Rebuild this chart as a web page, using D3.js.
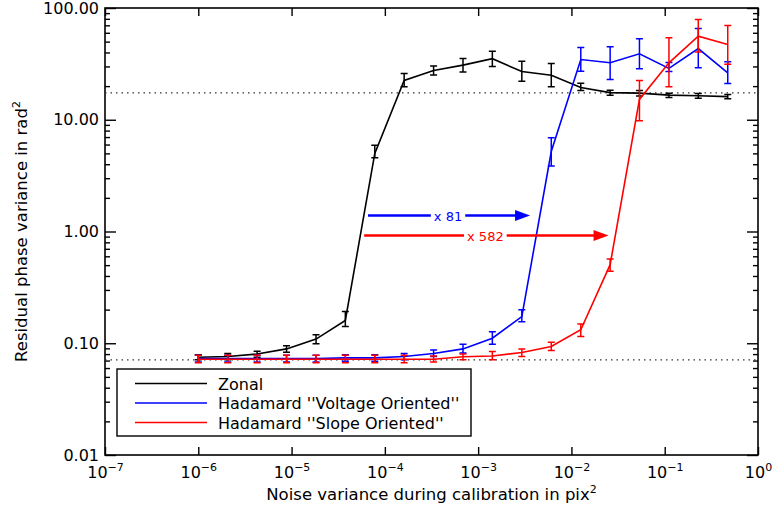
<!DOCTYPE html>
<html>
<head>
<meta charset="utf-8">
<script src="https://cdn.jsdelivr.net/npm/d3@7"></script>
<style>
  body { margin: 0; background: #fff; }
  svg { font-family: "DejaVu Sans", Verdana, sans-serif; }
</style>
</head>
<body>
<svg width="772" height="506"></svg>
<script>
// noise variance values (pix^2), one per simulation point
var noise = [1.0e-6, 2.07e-6, 4.27e-6, 8.83e-6, 1.83e-5, 3.77e-5, 7.8e-5, 1.61e-4, 3.33e-4, 6.88e-4,
             1.42e-3, 2.94e-3, 6.08e-3, 1.26e-2, 2.6e-2, 5.36e-2, 0.111, 0.229, 0.474]

// Zonal
var zonal    = [0.075, 0.076, 0.080, 0.089, 0.109, 0.160, 5.0, 22.5, 27.6, 30.8, 35.2, 27.0, 25.0, 19.4, 17.5, 17.3, 16.6, 16.4, 16.1]
var zonal_lo = [0.071, 0.071, 0.075, 0.083, 0.099, 0.141, 4.56, 19.7, 25.2, 26.7, 30.0, 22.1, 19.7, 18.3, 16.6, 16.3, 15.8, 15.6, 15.4]
var zonal_hi = [0.079, 0.081, 0.085, 0.095, 0.119, 0.192, 5.91, 25.9, 30.2, 35.3, 41.0, 33.3, 31.9, 21.2, 18.4, 18.3, 17.3, 17.2, 16.8]

// Hadamard "Voltage Oriented"
var volt    = [0.073, 0.073, 0.073, 0.073, 0.073, 0.074, 0.074, 0.076, 0.081, 0.089, 0.111, 0.173, 5.2, 34.6, 32.4, 38.9, 28.8, 43.4, 26.3]
var volt_lo = [0.068, 0.068, 0.068, 0.068, 0.068, 0.069, 0.069, 0.071, 0.076, 0.082, 0.098, 0.156, 3.85, 27.2, 22.9, 28.6, 27.0, 29.2, 21.1]
var volt_hi = [0.078, 0.078, 0.078, 0.078, 0.078, 0.079, 0.079, 0.081, 0.087, 0.098, 0.127, 0.199, 6.9, 44.4, 45.0, 53.0, 32.6, 65.6, 33.0]

// Hadamard "Slope Oriented"
var slope    = [0.072, 0.072, 0.072, 0.072, 0.072, 0.072, 0.072, 0.072, 0.072, 0.0757, 0.077, 0.0826, 0.0934, 0.132, 0.505, 15.2, 32.3, 56.0, 47.2]
var slope_lo = [0.067, 0.067, 0.067, 0.067, 0.067, 0.067, 0.067, 0.067, 0.068, 0.071, 0.071, 0.076, 0.086, 0.115, 0.44, 9.8, 19.7, 40.3, 31.3]
var slope_hi = [0.078, 0.078, 0.078, 0.078, 0.078, 0.078, 0.078, 0.078, 0.077, 0.080, 0.0843, 0.089, 0.102, 0.149, 0.567, 22.5, 54.2, 79.0, 69.8]

// reference levels (dotted lines)
var ref_levels = [17.4, 0.071]

// arrows: x start, x end, y, label
var arrows = [
  { x0: 6.6e-5, x1: 3.6e-3, y: 1.39, label: "x 81", color: "#0000ff" },
  { x0: 6.0e-5, x1: 2.5e-2, y: 0.92, label: "x 582", color: "#ff0000" }
]

var series = [
  { name: 'Zonal', v: zonal, lo: zonal_lo, hi: zonal_hi, color: '#000000' },
  { name: 'Hadamard \'\'Voltage Oriented\'\'', v: volt, lo: volt_lo, hi: volt_hi, color: '#0000ff' },
  { name: 'Hadamard \'\'Slope Oriented\'\'', v: slope, lo: slope_lo, hi: slope_hi, color: '#ff0000' }
]

var x_ticks = [1e-7, 1e-6, 1e-5, 1e-4, 1e-3, 1e-2, 1e-1, 1]
var x_exp = ['\u22127', '\u22126', '\u22125', '\u22124', '\u22123', '\u22122', '\u22121', '0']
var y_ticks = [0.01, 0.1, 1, 10, 100]

const pLeft = 105, pRight = 758, pTop = 8, pBottom = 455

const svg = d3.select('svg')

const xScale = d3.scaleLog().domain([1e-7, 1]).range([pLeft, pRight])
const yScale = d3.scaleLog().domain([0.01, 100]).range([pBottom, pTop])

var y_minor = []
y_ticks.slice(0, -1).forEach(function(d) {
  for (var m = 2; m <= 9; m++) y_minor.push(d * m)
})

// frame
svg.append('rect')
  .attr('x', pLeft).attr('y', pTop)
  .attr('width', pRight - pLeft).attr('height', pBottom - pTop)
  .attr('fill', 'none').attr('stroke', '#000').attr('stroke-width', 1.6)

// x axes (bottom with labels, top mirrored)
var xb = svg.append('g')
  .attr('transform', `translate(0, ${pBottom})`)
  .call(d3.axisBottom(xScale).tickValues(x_ticks).tickSizeInner(-8).tickSizeOuter(0).tickPadding(12))
xb.select('.domain').remove()
xb.selectAll('text').each(function(d, i) {
  var t = d3.select(this)
  t.text(null).attr('font-size', 16).attr('fill', '#000')
  t.append('tspan').text('10')
  t.append('tspan').attr('dy', -7).attr('font-size', 11).text(x_exp[i])
})
xb.attr('font-family', null)

var xt = svg.append('g')
  .attr('transform', `translate(0, ${pTop})`)
  .call(d3.axisTop(xScale).tickValues(x_ticks).tickSizeInner(-8).tickSizeOuter(0).tickFormat(''))
xt.select('.domain').remove()

// y axes, major and minor
var yl = svg.append('g')
  .attr('transform', `translate(${pLeft}, 0)`)
  .call(d3.axisLeft(yScale).tickValues(y_ticks).tickSizeInner(-11).tickSizeOuter(0).tickPadding(6).tickFormat(d3.format('.2f')))
yl.select('.domain').remove()
yl.attr('font-family', null)
yl.selectAll('text').attr('font-size', 16).attr('fill', '#000').attr('x', -6)

var ylm = svg.append('g')
  .attr('transform', `translate(${pLeft}, 0)`)
  .call(d3.axisLeft(yScale).tickValues(y_minor).tickSizeInner(-5).tickSizeOuter(0).tickFormat(''))
ylm.select('.domain').remove()

var yr = svg.append('g')
  .attr('transform', `translate(${pRight}, 0)`)
  .call(d3.axisRight(yScale).tickValues(y_ticks).tickSizeInner(-11).tickSizeOuter(0).tickFormat(''))
yr.select('.domain').remove()

var yrm = svg.append('g')
  .attr('transform', `translate(${pRight}, 0)`)
  .call(d3.axisRight(yScale).tickValues(y_minor).tickSizeInner(-5).tickSizeOuter(0).tickFormat(''))
yrm.select('.domain').remove()

svg.selectAll('.tick line').attr('stroke', '#000').attr('stroke-width', 1.4)

// dotted reference lines
svg.selectAll('.ref')
  .data(ref_levels)
  .enter()
  .append('line')
  .attr('x1', pLeft).attr('x2', pRight)
  .attr('y1', (d) => yScale(d)).attr('y2', (d) => yScale(d))
  .attr('stroke', '#333').attr('stroke-width', 1.3)
  .attr('stroke-dasharray', '1.5,4')

// series
const line = d3.line()
  .x((d) => xScale(d[0]))
  .y((d) => yScale(d[1]))

series.forEach(function(s) {
  var pts = noise.map((n, i) => [n, s.v[i], s.lo[i], s.hi[i]])
  var g = svg.append('g')
  g.append('path')
    .attr('d', line(pts))
    .attr('fill', 'none')
    .attr('stroke', s.color)
    .attr('stroke-width', 1.6)

  g.selectAll('.eb')
    .data(pts)
    .enter()
    .append('path')
    .attr('d', function(d) {
      var cx = xScale(d[0]), y0 = yScale(d[2]), y1 = yScale(d[3])
      return `M${cx - 3.5},${y0}H${cx + 3.5}M${cx},${y0}V${y1}M${cx - 3.5},${y1}H${cx + 3.5}`
    })
    .attr('fill', 'none')
    .attr('stroke', s.color)
    .attr('stroke-width', 1.5)
})

// arrows
arrows.forEach(function(a) {
  var x0 = xScale(a.x0), x1 = xScale(a.x1), y = yScale(a.y)
  svg.append('line')
    .attr('x1', x0).attr('x2', x1 - 14)
    .attr('y1', y).attr('y2', y)
    .attr('stroke', a.color).attr('stroke-width', 2.5)
  svg.append('path')
    .attr('d', `M${x1},${y}L${x1 - 15},${y - 5.5}L${x1 - 15},${y + 5.5}Z`)
    .attr('fill', a.color)
  var t = svg.append('text')
    .attr('x', (x0 + x1) / 2 - 1).attr('y', y + 5)
    .attr('text-anchor', 'middle')
    .attr('font-size', 13)
    .attr('fill', a.color)
    .text(a.label)
  var bb = t.node().getBBox()
  svg.insert('rect', function() { return t.node() })
    .attr('x', bb.x - 3).attr('y', y - 3).attr('width', bb.width + 6).attr('height', 6)
    .attr('fill', '#fff')
})

// legend
var legend = svg.append('g')
legend.append('rect')
  .attr('x', 117).attr('y', 369).attr('width', 354).attr('height', 67)
  .attr('fill', '#fff').attr('stroke', '#000').attr('stroke-width', 1.4)
series.forEach(function(s, i) {
  var ly = 383.5 + i * 19.5
  legend.append('line')
    .attr('x1', 135).attr('x2', 207).attr('y1', ly).attr('y2', ly)
    .attr('stroke', s.color).attr('stroke-width', 1.6)
  legend.append('text')
    .attr('x', 218).attr('y', ly + 6)
    .attr('font-size', 16)
    .text(s.name)
})

// axis titles
var xl = svg.append('text')
  .attr('x', (pLeft + pRight) / 2).attr('y', 500)
  .attr('text-anchor', 'middle')
  .attr('font-size', 16.5)
xl.append('tspan').text('Noise variance during calibration in pix')
xl.append('tspan').attr('dy', -7).attr('font-size', 11).text('2')

var ylab = svg.append('text')
  .attr('transform', `translate(27, ${(pTop + pBottom) / 2}) rotate(-90)`)
  .attr('text-anchor', 'middle')
  .attr('font-size', 16.5)
ylab.append('tspan').text('Residual phase variance in rad')
ylab.append('tspan').attr('dy', -7).attr('font-size', 11).text('2')
</script>
</body>
</html>
